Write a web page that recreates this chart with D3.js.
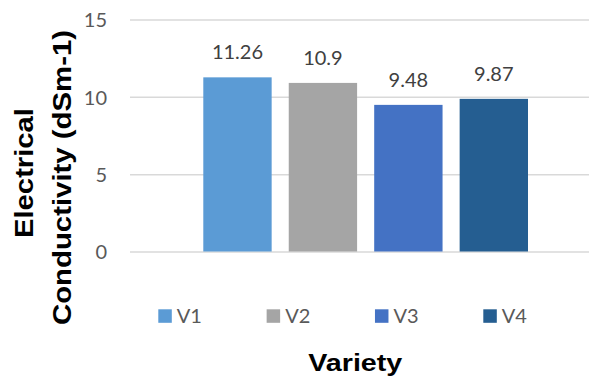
<!DOCTYPE html>
<html>
<head>
<meta charset="utf-8">
<script src="https://cdn.jsdelivr.net/npm/d3@7"></script>
<style>
  html, body { margin: 0; padding: 0; background: #fff; }
  svg { display: block; }
</style>
</head>
<body>
<svg id="chart" width="589" height="377"></svg>
<script>
const series = ["V1", "V2", "V3", "V4"];
const values = [11.26, 10.9, 9.48, 9.87];
const colors = ["#5B9BD5", "#A5A5A5", "#4472C4", "#255E91"];
const yTicks = [0, 5, 10, 15];
const yTitle = ["Electrical", "Conductivity (dSm-1)"];
const xTitle = "Variety";

const svg = d3.select("#chart");
const plot = { left: 130, right: 589, top: 19.5, bottom: 251.5 };

const y = d3.scaleLinear().domain([0, 15]).range([plot.bottom, plot.top]);
const x = d3.scaleBand().domain(series).range([203.3, 528]).paddingInner(0.2).paddingOuter(0);

// gridlines + tick labels
const yAxis = d3.axisLeft(y).tickValues(yTicks).tickSize(-(plot.right - plot.left)).tickPadding(23);
const gy = svg.append("g").attr("transform", `translate(${plot.left},0)`).call(yAxis);
gy.select(".domain").remove();
gy.selectAll(".tick line").attr("stroke", "#D9D9D9").attr("stroke-width", 1.5);
gy.selectAll(".tick text")
  .attr("fill", "#595959")
  .attr("font-family", "Lato, 'Open Sans', sans-serif")
  .attr("font-size", 20)
  .attr("dy", "0.36em");

// bars
svg.append("g").selectAll("rect")
  .data(series)
  .join("rect")
  .attr("x", d => x(d))
  .attr("width", x.bandwidth())
  .attr("y", (d, i) => y(values[i]))
  .attr("height", (d, i) => y(0) - y(values[i]))
  .attr("fill", (d, i) => colors[i]);

// data labels
svg.append("g").selectAll("text")
  .data(series)
  .join("text")
  .attr("x", d => x(d) + x.bandwidth() / 2)
  .attr("y", (d, i) => y(values[i]) - 18)
  .attr("text-anchor", "middle")
  .attr("fill", "#404040")
  .attr("font-family", "Lato, 'Open Sans', sans-serif")
  .attr("font-size", 20)
  .text((d, i) => String(values[i]));

// legend
const legendX = d3.scalePoint().domain(series).range([158.3, 483.3]);
const lg = svg.append("g").selectAll("g")
  .data(series)
  .join("g")
  .attr("transform", d => `translate(${legendX(d)},309.3)`);
lg.append("rect").attr("width", 13.5).attr("height", 13.5).attr("fill", (d, i) => colors[i]);
lg.append("text")
  .attr("x", 18.5)
  .attr("y", 13.8)
  .attr("fill", "#595959")
  .attr("font-family", "Lato, 'Open Sans', sans-serif")
  .attr("font-size", 20)
  .text(d => d);

// x title
svg.append("text")
  .attr("x", 308.3)
  .attr("y", 371)
  .attr("fill", "#000")
  .attr("font-family", "'Liberation Sans', Arial, sans-serif")
  .attr("font-weight", "bold")
  .attr("font-size", 24)
  .attr("textLength", 94)
  .attr("lengthAdjust", "spacingAndGlyphs")
  .text(xTitle);

// y title (two lines, rotated)
const yt = svg.append("g");
yt.append("text")
  .attr("transform", "translate(33,238) rotate(-90)")
  .attr("fill", "#000")
  .attr("font-family", "'Liberation Sans', Arial, sans-serif")
  .attr("font-weight", "bold")
  .attr("font-size", 25)
  .attr("textLength", 130)
  .attr("lengthAdjust", "spacingAndGlyphs")
  .text(yTitle[0]);
yt.append("text")
  .attr("transform", "translate(71,325) rotate(-90)")
  .attr("fill", "#000")
  .attr("font-family", "'Liberation Sans', Arial, sans-serif")
  .attr("font-weight", "bold")
  .attr("font-size", 25)
  .attr("textLength", 295)
  .attr("lengthAdjust", "spacingAndGlyphs")
  .text(yTitle[1]);
</script>
</body>
</html>
